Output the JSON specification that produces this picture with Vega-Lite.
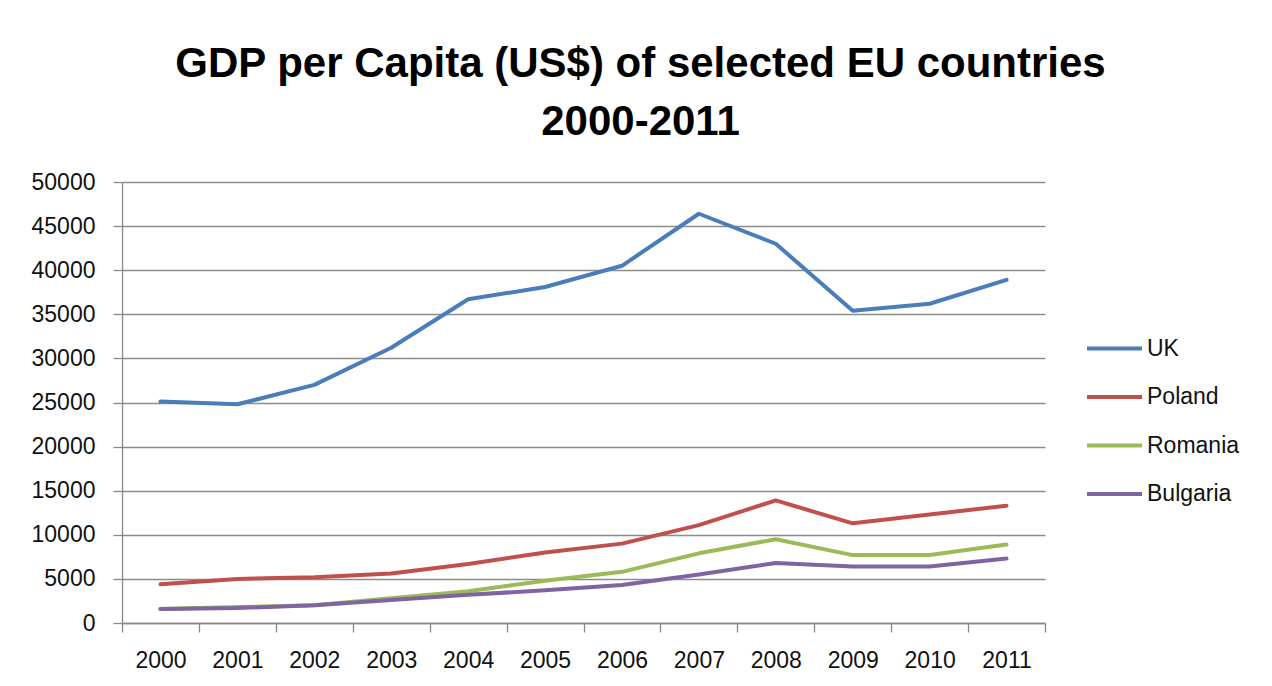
{
  "$schema": "https://vega.github.io/schema/vega-lite/v6.json",
  "width": 923,
  "height": 441,
  "autosize": {"type": "none"},
  "padding": {"left": 122, "top": 182, "right": 227, "bottom": 63},
  "background": "white",
  "title": {
    "text": ["GDP per Capita (US$) of selected EU countries", "2000-2011"],
    "fontSize": 42,
    "font": "Liberation Sans",
    "fontWeight": "bold",
    "color": "#000000",
    "lineHeight": 58,
    "anchor": "middle",
    "dx": 57,
    "offset": 27
  },
  "data": {
    "values": [
      {"year": "2000", "country": "UK", "gdp": 25100},
      {"year": "2001", "country": "UK", "gdp": 24800},
      {"year": "2002", "country": "UK", "gdp": 27000},
      {"year": "2003", "country": "UK", "gdp": 31200},
      {"year": "2004", "country": "UK", "gdp": 36700},
      {"year": "2005", "country": "UK", "gdp": 38100},
      {"year": "2006", "country": "UK", "gdp": 40500},
      {"year": "2007", "country": "UK", "gdp": 46400},
      {"year": "2008", "country": "UK", "gdp": 43000},
      {"year": "2009", "country": "UK", "gdp": 35400},
      {"year": "2010", "country": "UK", "gdp": 36200},
      {"year": "2011", "country": "UK", "gdp": 38900},
      {"year": "2000", "country": "Poland", "gdp": 4400},
      {"year": "2001", "country": "Poland", "gdp": 5000},
      {"year": "2002", "country": "Poland", "gdp": 5200},
      {"year": "2003", "country": "Poland", "gdp": 5600},
      {"year": "2004", "country": "Poland", "gdp": 6700},
      {"year": "2005", "country": "Poland", "gdp": 8000},
      {"year": "2006", "country": "Poland", "gdp": 9000},
      {"year": "2007", "country": "Poland", "gdp": 11100},
      {"year": "2008", "country": "Poland", "gdp": 13900},
      {"year": "2009", "country": "Poland", "gdp": 11300},
      {"year": "2010", "country": "Poland", "gdp": 12300},
      {"year": "2011", "country": "Poland", "gdp": 13300},
      {"year": "2000", "country": "Romania", "gdp": 1600},
      {"year": "2001", "country": "Romania", "gdp": 1800},
      {"year": "2002", "country": "Romania", "gdp": 2000},
      {"year": "2003", "country": "Romania", "gdp": 2800},
      {"year": "2004", "country": "Romania", "gdp": 3600},
      {"year": "2005", "country": "Romania", "gdp": 4800},
      {"year": "2006", "country": "Romania", "gdp": 5800},
      {"year": "2007", "country": "Romania", "gdp": 7900},
      {"year": "2008", "country": "Romania", "gdp": 9500},
      {"year": "2009", "country": "Romania", "gdp": 7700},
      {"year": "2010", "country": "Romania", "gdp": 7700},
      {"year": "2011", "country": "Romania", "gdp": 8900},
      {"year": "2000", "country": "Bulgaria", "gdp": 1600},
      {"year": "2001", "country": "Bulgaria", "gdp": 1700},
      {"year": "2002", "country": "Bulgaria", "gdp": 2000},
      {"year": "2003", "country": "Bulgaria", "gdp": 2600},
      {"year": "2004", "country": "Bulgaria", "gdp": 3200},
      {"year": "2005", "country": "Bulgaria", "gdp": 3700},
      {"year": "2006", "country": "Bulgaria", "gdp": 4300},
      {"year": "2007", "country": "Bulgaria", "gdp": 5500},
      {"year": "2008", "country": "Bulgaria", "gdp": 6800},
      {"year": "2009", "country": "Bulgaria", "gdp": 6400},
      {"year": "2010", "country": "Bulgaria", "gdp": 6400},
      {"year": "2011", "country": "Bulgaria", "gdp": 7300}
    ]
  },
  "mark": {"type": "line", "strokeWidth": 4, "strokeCap": "round", "strokeJoin": "round"},
  "encoding": {
    "x": {
      "field": "year",
      "type": "ordinal",
      "scale": {"type": "band", "paddingInner": 0, "paddingOuter": 0},
      "axis": {
        "title": null,
        "labelAngle": 0,
        "labelFont": "Liberation Sans",
        "labelFontSize": 23,
        "labelColor": "#111111",
        "labelPadding": 17,
        "tickBand": "extent",
        "tickSize": 9,
        "tickColor": "#888888",
        "domainColor": "#888888",
        "tickWidth": 1.3,
        "domainWidth": 1.3,
        "grid": false
      }
    },
    "y": {
      "field": "gdp",
      "type": "quantitative",
      "scale": {"domain": [0, 50000], "nice": false},
      "axis": {
        "title": null,
        "values": [0, 5000, 10000, 15000, 20000, 25000, 30000, 35000, 40000, 45000, 50000],
        "format": "d",
        "labelFont": "Liberation Sans",
        "labelFontSize": 23,
        "labelColor": "#111111",
        "labelPadding": 18,
        "tickSize": 9,
        "tickColor": "#888888",
        "domainColor": "#888888",
        "tickWidth": 1.3,
        "domainWidth": 1.3,
        "grid": true,
        "gridColor": "#8c8c8c",
        "gridWidth": 1.3
      }
    },
    "color": {
      "field": "country",
      "type": "nominal",
      "scale": {
        "domain": ["UK", "Poland", "Romania", "Bulgaria"],
        "range": ["#4a7ebb", "#c0504d", "#9bbb59", "#8064a2"]
      },
      "legend": {
        "title": null,
        "orient": "none",
        "legendX": 963,
        "legendY": 137,
        "symbolType": "stroke",
        "symbolSize": 3025,
        "symbolStrokeWidth": 4,
        "labelFont": "Liberation Sans",
        "labelFontSize": 23,
        "labelColor": "#111111",
        "labelOffset": 3,
        "rowPadding": 6.5
      }
    }
  },
  "config": {
    "view": {"stroke": null}
  }
}
